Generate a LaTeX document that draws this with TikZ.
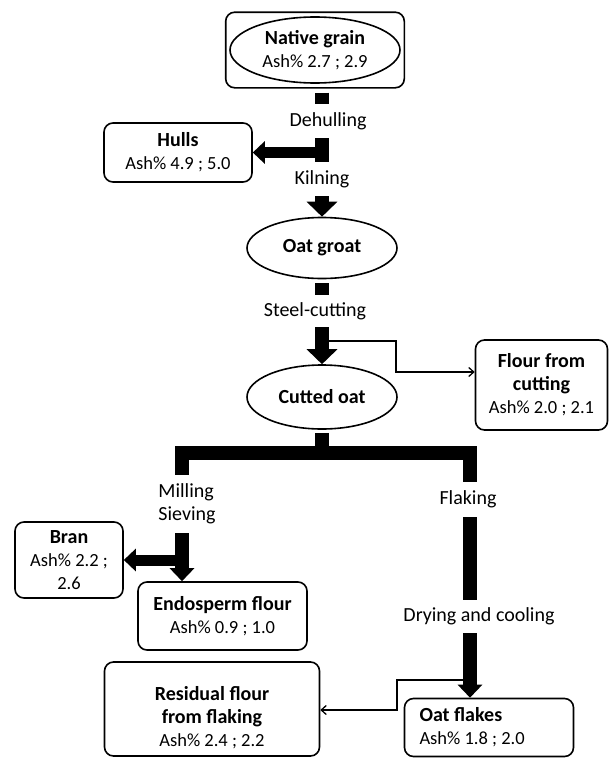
\documentclass[tikz,border=0pt]{standalone}
\usepackage{fontspec}
\setmainfont{Carlito}
\usepackage{tikz}
\usetikzlibrary{shapes.geometric, arrows.meta, fit}

\newcommand{\ashsize}{\fontsize{18.5}{23}\selectfont}

\begin{document}
\begin{tikzpicture}[
    x=1pt, y=-1pt,
    prodbox/.style={rectangle,rounded corners=9pt,draw=black,line width=1.6pt,align=center,inner sep=0pt,font=\fontsize{20}{23}\selectfont},
    stage/.style={ellipse,draw=black,line width=1.6pt,align=center,inner sep=0pt,font=\fontsize{20}{23}\selectfont},
    proc/.style={align=left,inner sep=0pt,font=\fontsize{20}{23}\selectfont},
    flow/.style={line width=14pt},
    flowarrow/.style={line width=14pt,-{Triangle[width=30pt,length=15pt]}},
    branch/.style={line width=11pt,-{Triangle[width=22pt,length=12pt]}},
    fine/.style={line width=1.3pt,-{Straight Barb[length=5pt,width=9pt]}}
]
\useasboundingbox (0,0) rectangle (610,758);

%--------------------------------------------------------------------
% Upper column: grain to cutted oat
%--------------------------------------------------------------------
\node[stage,minimum width=170pt,minimum height=66pt] (native) at (315,50)
    {\textbf{Native grain}\\{\ashsize Ash\% 2.7 ; 2.9}};
\node[prodbox,fit=(native),inner xsep=3.5pt,inner ysep=4pt] (natframe) {};

\node[proc,minimum height=34pt] (dehull) at (328,121) {Dehulling};
\node[prodbox,minimum width=148pt,minimum height=59pt] (hulls) at (178,152.5)
    {\textbf{Hulls}\\{\ashsize Ash\% 4.9 ; 5.0}};
\node[proc,minimum height=34pt] (kiln) at (322,179) {Kilning};

\node[stage,minimum width=150pt,minimum height=61pt] (groat) at (322,248) {\textbf{Oat groat}};
\node[proc,minimum height=32pt] (steel) at (315,311) {Steel-cutting};
\node[stage,minimum width=150pt,minimum height=64pt] (cutted) at (322,397) {\textbf{Cutted oat}};

\node[prodbox,minimum width=132pt,minimum height=90pt] (flour) at (541.5,385)
    {\textbf{Flour from}\\\textbf{cutting}\\{\ashsize Ash\% 2.0 ; 2.1}};

\coordinate (cuttap)  at (329,341);
\coordinate (cutbend) at (396,372);

% main line with the hulls branch
\draw[flow,shorten <=4pt] (natframe.south -| groat) -- (dehull.north -| groat);
\draw[flow] (dehull.south -| groat) -- (kiln.north -| groat);
\draw[branch] (hulls.east -| groat) -- (hulls.east);
\draw[flowarrow] (kiln.south -| groat) -- (groat.north);
\draw[flow,shorten <=4pt] (groat.south) -- (steel.north -| groat);
\draw[flowarrow] (steel.south -| groat) -- (cutted.north);
\draw[fine] (cuttap) -| (cutbend) -- (cutbend -| flour.west);

%--------------------------------------------------------------------
% Lower part: milling (left) and flaking (right)
%--------------------------------------------------------------------
\coordinate (split)    at (322,453);
\coordinate (leftleg)  at (182,453);
\coordinate (rightleg) at (470,453);

\node[proc,minimum height=58pt] (milling) at (187,504) {Milling\\Sieving};
\node[proc,minimum height=35pt] (flaking) at (468,499.5) {Flaking};
\node[proc,minimum height=33pt] (drying) at (479,616.5) {Drying and cooling};

\node[prodbox,minimum width=108pt,minimum height=76pt] (bran) at (69,560)
    {\textbf{Bran}\\{\ashsize Ash\% 2.2 ;}\\{\ashsize 2.6}};
\node[prodbox,minimum width=169pt,minimum height=68pt] (endo) at (222.5,616)
    {\textbf{Endosperm flour}\\{\ashsize Ash\% 0.9 ; 1.0}};
\node[prodbox,minimum width=169pt,minimum height=58pt,text width=139pt,align=flush left] (flakes) at (489,727.5)
    {\textbf{Oat flakes}\\{\ashsize Ash\% 1.8 ; 2.0}};
\node[prodbox,minimum width=215pt,minimum height=94pt] (resid) at (212,709)
    {\rule{0pt}{31pt}\textbf{Residual flour}\\\textbf{from flaking}\\{\ashsize Ash\% 2.4 ; 2.2}};

\coordinate (flaketap)  at (463,680);
\coordinate (flakebend) at (397,710);

\draw[flow,shorten <=3pt] (cutted.south) -- (split);
\draw[flow] (leftleg |- milling.north) -- (leftleg) -- (rightleg) -- (rightleg |- flaking.north);

% left branch
\draw[line width=14pt,-{Triangle[width=24pt,length=13pt]}] (milling.south -| leftleg) -- (leftleg |- endo.north);
\draw[branch] (bran.east -| leftleg) -- (bran.east);

% right branch
\draw[flow] (flaking.south -| rightleg) -- (drying.north -| rightleg);
\draw[line width=14pt,-{Triangle[width=24pt,length=13pt]}] (drying.south -| rightleg) -- (rightleg |- flakes.north);
\draw[fine] (flaketap) -| (flakebend) -- (flakebend -| resid.east);

\end{tikzpicture}
\end{document}
